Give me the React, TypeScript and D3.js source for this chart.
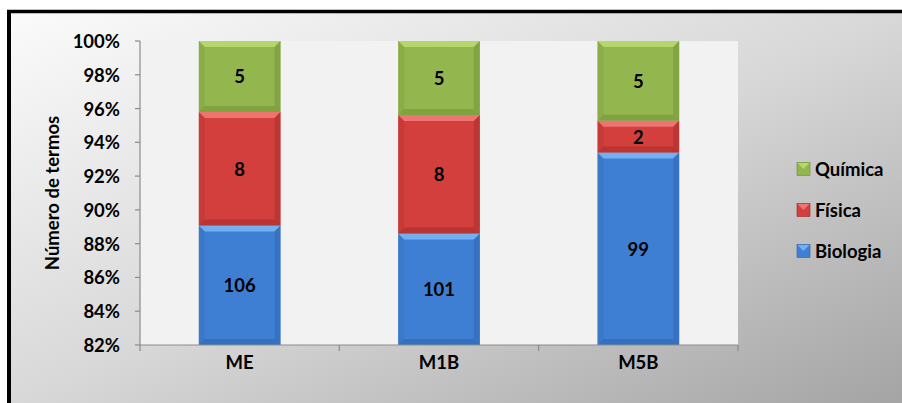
import React from "react";
import * as d3 from "d3";

const categories = ["ME", "M1B", "M5B"];
const seriesNames = ["Biologia", "Física", "Química"];
const biologia = [106, 101, 99];
const fisica = [8, 8, 2];
const quimica = [5, 5, 5];
const yTicks = [0.82, 0.84, 0.86, 0.88, 0.9, 0.92, 0.94, 0.96, 0.98, 1.0];

const colors = {
  Biologia: { base: "#3f7fd3", light: "#72b0f2", dark: "#2b5fa8" },
  Física: { base: "#d23f3d", light: "#ee7472", dark: "#9c2a29" },
  Química: { base: "#93b64e", light: "#b6d66c", dark: "#6a8a33" },
} as Record<string, { base: string; light: string; dark: string }>;

const W = 902;
const H = 403;
const plot = { left: 140, right: 738, top: 41, bottom: 345 };
const FONT = "Lato, 'Open Sans', sans-serif";
const FS = 18.5;

export default function App() {
  const x = d3
    .scaleBand<string>()
    .domain(categories)
    .range([plot.left, plot.right])
    .paddingInner(0.59)
    .paddingOuter(0.295);
  const y = d3.scaleLinear().domain([0.82, 1.0]).range([plot.bottom, plot.top]);

  const rows = categories.map((c, i) => {
    const vals = [biologia[i], fisica[i], quimica[i]];
    const total = d3.sum(vals);
    let acc = 0;
    return {
      cat: c,
      segs: vals.map((v, j) => {
        const y0 = acc / total;
        acc += v;
        const y1 = acc / total;
        return { name: seriesNames[j], value: v, y0, y1 };
      }),
    };
  });

  const step = (plot.right - plot.left) / categories.length;
  const b = 6;

  return (
    <svg
      width={W}
      height={H}
      style={{ position: "fixed", left: 0, top: 0 }}
      fontFamily={FONT}
    >
      <defs>
        <linearGradient id="bg" x1="0" y1="0" x2="1" y2="1">
          <stop offset="0" stopColor="#fbfbfb" />
          <stop offset="0.5" stopColor="#d8d8d8" />
          <stop offset="1" stopColor="#a4a4a4" />
        </linearGradient>
        <clipPath id="plotclip">
          <rect x={plot.left} y={plot.top - 1} width={plot.right - plot.left} height={plot.bottom - plot.top + 1} />
        </clipPath>
      </defs>
      <rect x={0} y={0} width={W} height={H} fill="#ffffff" />
      <rect x={9} y={12} width={W - 9} height={H - 12} fill="url(#bg)" />
      <line x1={7} x2={W} y1={11.5} y2={11.5} stroke="#000" strokeWidth={3.5} />
      <line x1={9} x2={9} y1={10} y2={H} stroke="#000" strokeWidth={4} />

      <rect
        x={plot.left}
        y={plot.top}
        width={plot.right - plot.left}
        height={plot.bottom - plot.top}
        fill="#f2f2f2"
      />

      {/* bars */}
      <g clipPath="url(#plotclip)">
        {rows.map((r) => {
          const bx = x(r.cat)!;
          const bw = x.bandwidth();
          return r.segs.map((s) => {
            const top = y(Math.min(s.y1, 1));
            const bot = y(Math.max(s.y0, 0.82));
            if (bot <= top) return null;
            const c = colors[s.name];
            const h = bot - top;
            const bb = Math.min(b, h / 3);
            return (
              <g key={r.cat + s.name}>
                <rect x={bx} y={top} width={bw} height={h} fill={c.base} />
                <polygon
                  points={`${bx},${top} ${bx + bw},${top} ${bx + bw - bb},${top + bb} ${bx + bb},${top + bb}`}
                  fill={c.light}
                />
                <polygon
                  points={`${bx},${top} ${bx + bb},${top + bb} ${bx + bb},${bot - bb} ${bx},${bot}`}
                  fill={c.dark}
                  opacity={0.2}
                />
                <polygon
                  points={`${bx + bw},${top} ${bx + bw - bb},${top + bb} ${bx + bw - bb},${bot - bb} ${bx + bw},${bot}`}
                  fill={c.dark}
                  opacity={0.4}
                />
                <polygon
                  points={`${bx},${bot} ${bx + bb},${bot - bb} ${bx + bw - bb},${bot - bb} ${bx + bw},${bot}`}
                  fill={c.dark}
                  opacity={0.45}
                />
                <text
                  x={bx + bw / 2}
                  y={(top + bot) / 2}
                  textAnchor="middle"
                  dominantBaseline="central"
                  fontSize={FS}
                  fontWeight="bold"
                  fill="#000"
                >
                  {s.value}
                </text>
              </g>
            );
          });
        })}
      </g>

      {/* y axis */}
      <line x1={plot.left} x2={plot.left} y1={plot.top} y2={plot.bottom} stroke="#8c8c8c" strokeWidth={1.2} />
      {yTicks.map((t) => (
        <g key={t}>
          <line x1={plot.left - 5} x2={plot.left} y1={y(t)} y2={y(t)} stroke="#8c8c8c" strokeWidth={1.2} />
          <text
            x={plot.left - 20}
            y={y(t)}
            textAnchor="end"
            dominantBaseline="central"
            fontSize={FS}
            fontWeight="bold"
            fill="#000"
          >
            {d3.format(".0%")(t)}
          </text>
        </g>
      ))}

      {/* x axis */}
      <line x1={plot.left} x2={plot.right} y1={plot.bottom} y2={plot.bottom} stroke="#8c8c8c" strokeWidth={1.2} />
      {d3.range(categories.length + 1).map((i) => (
        <line
          key={i}
          x1={plot.left + i * step}
          x2={plot.left + i * step}
          y1={plot.bottom}
          y2={plot.bottom + 6}
          stroke="#8c8c8c"
          strokeWidth={1.2}
        />
      ))}
      {categories.map((c) => (
        <text
          key={c}
          x={x(c)! + x.bandwidth() / 2}
          y={plot.bottom + 17}
          textAnchor="middle"
          dominantBaseline="central"
          fontSize={FS}
          fontWeight="bold"
          fill="#000"
        >
          {c}
        </text>
      ))}

      {/* y title */}
      <text
        transform={`translate(52,${(plot.top + plot.bottom) / 2}) rotate(-90)`}
        textAnchor="middle"
        dominantBaseline="central"
        fontSize={FS}
        fontWeight="bold"
        fill="#000"
      >
        Número de termos
      </text>

      {/* legend */}
      {[...seriesNames].reverse().map((n, i) => {
        const ly = 169 + i * 41;
        const c = colors[n];
        return (
          <g key={n}>
            <rect x={797} y={ly - 6.5} width={13} height={13} fill={c.base} />
            <polygon points={`${797},${ly - 6.5} ${810},${ly - 6.5} ${803.5},${ly}`} fill={c.light} />
            <rect x={797} y={ly - 6.5} width={13} height={13} fill="none" stroke={c.dark} strokeWidth={0.6} />
            <text x={815} y={ly} dominantBaseline="central" fontSize={FS} fontWeight="bold" fill="#000">
              {n}
            </text>
          </g>
        );
      })}
    </svg>
  );
}
